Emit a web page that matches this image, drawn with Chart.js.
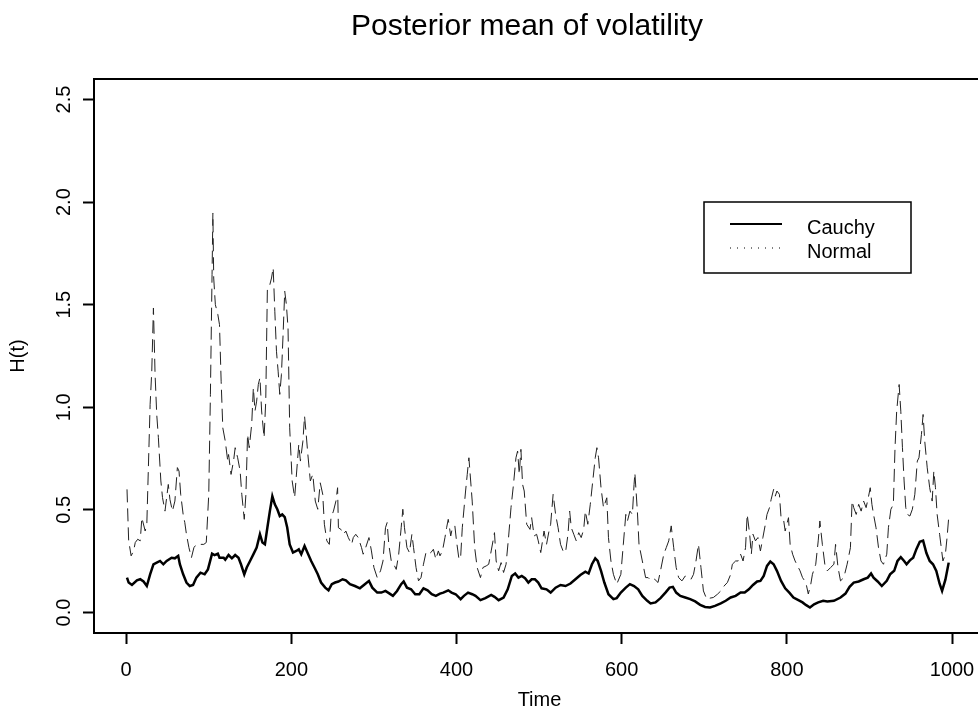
<!DOCTYPE html>
<html>
<head>
<meta charset="utf-8">
<script src="https://cdn.jsdelivr.net/npm/chart.js@4.4.0/dist/chart.umd.min.js"></script>
<style>
html, body { margin: 0; padding: 0; background: #fff; overflow: hidden; }
#wrap { width: 1000px; height: 725px; }
</style>
</head>
<body>
<div id="wrap"><canvas id="chart_volatility" width="1000" height="725"></canvas></div>
<script>
// values
var chartTitle = 'Posterior mean of volatility';
var xTicks = [0, 200, 400, 600, 800, 1000];
var yTicks = [0, 0.5, 1, 1.5, 2, 2.5];

var cauchyT = [1,3,7,13,17,21,25,29,33,37,41,45,49,55,59,63,65,69,73,77,81,85,90,95,99,104,107,111,113,118,120,124,128,132,136,139,143,146,150,154,158,162,165,168,171,174,177,180,183,186,189,192,195,198,202,206,209,212,216,220,224,228,232,236,241,245,249,253,257,262,266,271,277,283,289,294,298,304,309,314,319,323,328,333,336,340,345,350,355,360,365,370,375,380,384,390,394,399,405,409,414,419,423,429,435,442,446,451,457,462,467,471,475,479,483,487,491,495,499,503,509,514,520,526,532,538,544,550,556,560,564,568,571,575,579,584,590,594,599,605,610,615,620,625,631,635,641,647,653,658,662,666,671,677,683,689,695,701,707,713,720,726,732,738,744,749,754,759,764,768,772,776,780,784,788,793,798,803,808,814,819,823,828,833,838,844,849,857,865,871,876,881,887,893,898,902,905,910,915,921,925,930,934,938,942,945,949,953,957,961,965,969,973,977,981,985,988,992,996];
var cauchyH = [0.17,0.146,0.134,0.157,0.162,0.151,0.129,0.186,0.235,0.243,0.251,0.235,0.251,0.267,0.264,0.276,0.235,0.186,0.146,0.129,0.134,0.17,0.194,0.186,0.21,0.287,0.28,0.287,0.267,0.267,0.257,0.28,0.264,0.28,0.267,0.235,0.186,0.219,0.251,0.283,0.316,0.381,0.341,0.332,0.414,0.494,0.567,0.527,0.503,0.47,0.478,0.465,0.414,0.332,0.292,0.3,0.308,0.284,0.324,0.287,0.251,0.219,0.186,0.146,0.121,0.108,0.138,0.146,0.151,0.162,0.157,0.138,0.129,0.118,0.138,0.154,0.121,0.097,0.097,0.105,0.092,0.081,0.105,0.138,0.151,0.121,0.113,0.089,0.089,0.118,0.108,0.089,0.081,0.092,0.097,0.108,0.097,0.089,0.065,0.081,0.097,0.089,0.081,0.06,0.07,0.086,0.076,0.06,0.073,0.113,0.178,0.19,0.17,0.178,0.167,0.146,0.162,0.162,0.146,0.118,0.113,0.097,0.121,0.134,0.129,0.141,0.162,0.183,0.199,0.19,0.235,0.264,0.251,0.203,0.146,0.089,0.065,0.07,0.097,0.121,0.138,0.129,0.113,0.081,0.057,0.044,0.049,0.07,0.097,0.121,0.125,0.097,0.081,0.073,0.065,0.054,0.037,0.027,0.024,0.032,0.044,0.057,0.073,0.081,0.097,0.097,0.113,0.134,0.151,0.154,0.178,0.227,0.248,0.235,0.203,0.154,0.118,0.097,0.073,0.06,0.049,0.037,0.024,0.04,0.049,0.057,0.054,0.057,0.073,0.092,0.125,0.146,0.151,0.162,0.17,0.19,0.17,0.151,0.129,0.154,0.186,0.203,0.251,0.27,0.251,0.235,0.254,0.267,0.31,0.345,0.35,0.29,0.251,0.235,0.203,0.14,0.105,0.16,0.243];

var normalT = [1,3,6,9,11,14,17,19,23,25,29,31,33,35,37,39,42,44,47,51,53,56,59,62,64,66,69,71,73,76,79,82,85,89,94,97,100,102,104,105,106,108,111,113,115,117,120,123,124,127,130,132,135,138,140,143,145,147,149,152,154,156,158,160,162,164,167,169,171,174,176,178,180,182,184,186,188,190,192,194,196,198,201,204,209,211,214,216,218,220,223,226,229,232,235,238,240,243,246,248,251,254,256,257,260,263,266,269,273,275,278,281,285,287,290,294,297,300,304,308,311,314,316,318,321,324,327,330,333,335,337,340,343,346,348,351,354,357,360,363,366,369,372,375,378,380,383,386,388,390,393,395,398,400,403,405,407,411,413,415,419,422,425,429,432,436,439,442,446,448,451,454,457,460,463,466,469,472,474,476,478,480,482,485,489,491,494,497,499,502,506,509,512,514,517,520,523,526,529,532,535,537,539,542,545,548,551,554,556,559,562,565,568,570,572,575,578,582,584,587,590,594,599,602,605,607,610,613,615,616,619,621,625,629,632,636,640,644,647,651,654,657,660,663,666,669,673,677,681,684,687,690,693,696,699,703,707,711,716,720,724,728,732,734,738,741,744,747,750,752,755,757,759,762,765,768,771,774,776,779,781,784,786,788,791,793,796,798,802,804,807,810,814,816,819,823,826,829,831,835,838,840,843,846,849,853,857,859,862,865,869,873,877,879,881,884,887,890,893,896,899,901,903,905,908,911,914,917,921,923,926,929,931,933,936,938,940,942,944,946,949,952,955,958,960,963,965,967,970,973,976,978,980,982,985,987,989,992,994,996];
var normalH = [0.6,0.35,0.276,0.3,0.341,0.357,0.349,0.462,0.397,0.43,1.014,1.176,1.484,1.16,0.965,0.852,0.641,0.56,0.494,0.624,0.551,0.494,0.543,0.706,0.689,0.576,0.478,0.438,0.381,0.316,0.267,0.316,0.332,0.332,0.332,0.341,0.576,1.063,1.647,1.947,1.63,1.5,1.452,1.403,1.127,0.9,0.835,0.738,0.77,0.673,0.738,0.803,0.754,0.689,0.576,0.454,0.576,0.868,0.803,0.917,1.095,0.982,1.03,1.111,1.144,0.982,0.852,1.03,1.582,1.598,1.63,1.68,1.468,1.273,1.176,1.063,1.16,1.355,1.566,1.5,1.387,0.9,0.641,0.56,0.819,0.738,0.835,0.957,0.868,0.77,0.641,0.673,0.543,0.503,0.632,0.576,0.43,0.349,0.332,0.462,0.494,0.543,0.608,0.413,0.405,0.381,0.397,0.365,0.332,0.365,0.381,0.365,0.316,0.284,0.316,0.365,0.3,0.219,0.17,0.203,0.251,0.413,0.438,0.332,0.251,0.235,0.21,0.284,0.413,0.503,0.413,0.316,0.292,0.381,0.316,0.219,0.154,0.17,0.235,0.292,0.284,0.292,0.308,0.259,0.3,0.276,0.3,0.365,0.413,0.454,0.373,0.413,0.422,0.349,0.259,0.268,0.413,0.592,0.673,0.754,0.543,0.316,0.219,0.17,0.219,0.227,0.235,0.3,0.389,0.251,0.203,0.243,0.195,0.235,0.365,0.511,0.624,0.754,0.787,0.673,0.795,0.624,0.592,0.43,0.405,0.462,0.373,0.381,0.349,0.292,0.397,0.332,0.397,0.43,0.576,0.478,0.413,0.332,0.3,0.292,0.381,0.494,0.413,0.381,0.349,0.389,0.365,0.405,0.494,0.43,0.527,0.641,0.754,0.803,0.754,0.608,0.511,0.559,0.365,0.251,0.186,0.138,0.186,0.332,0.478,0.446,0.494,0.478,0.624,0.68,0.494,0.332,0.251,0.17,0.17,0.154,0.162,0.146,0.203,0.284,0.316,0.349,0.422,0.316,0.219,0.17,0.154,0.178,0.17,0.162,0.186,0.251,0.332,0.219,0.105,0.065,0.07,0.073,0.089,0.105,0.129,0.146,0.186,0.235,0.251,0.251,0.284,0.251,0.316,0.478,0.381,0.284,0.381,0.349,0.365,0.3,0.365,0.43,0.478,0.511,0.551,0.6,0.567,0.592,0.576,0.462,0.454,0.397,0.462,0.332,0.284,0.251,0.219,0.203,0.17,0.146,0.09,0.138,0.186,0.235,0.349,0.446,0.332,0.235,0.203,0.219,0.235,0.332,0.219,0.154,0.17,0.235,0.316,0.543,0.511,0.478,0.527,0.494,0.543,0.511,0.567,0.608,0.527,0.478,0.413,0.316,0.251,0.235,0.284,0.413,0.503,0.527,0.803,0.981,1.111,0.981,0.803,0.641,0.511,0.478,0.47,0.503,0.576,0.738,0.754,0.868,0.965,0.835,0.705,0.608,0.543,0.689,0.608,0.478,0.381,0.316,0.251,0.284,0.365,0.462];

var FONT = "'Liberation Sans', Arial, Helvetica, sans-serif";
Chart.defaults.font.family = FONT;
Chart.defaults.color = '#000';

function toPoints(ts, hs) {
  return ts.map(function (t, i) { return { x: t, y: hs[i] }; });
}

var rDecorations = {
  id: 'rDecorations',
  beforeDraw: function (chart) {
    var ctx = chart.ctx;
    ctx.save();
    ctx.fillStyle = '#fff';
    ctx.fillRect(0, 0, chart.width, chart.height);
    ctx.restore();
  },
  afterDraw: function (chart) {
    var ctx = chart.ctx;
    var a = chart.chartArea;
    ctx.save();
    // plot box
    ctx.strokeStyle = '#000';
    ctx.lineWidth = 2;
    ctx.strokeRect(a.left, a.top, a.right - a.left, a.bottom - a.top);
    // main title
    ctx.fillStyle = '#000';
    ctx.font = '30px ' + FONT;
    ctx.textAlign = 'center';
    ctx.textBaseline = 'middle';
    ctx.fillText(chartTitle, 527, 27);
    // legend box
    ctx.fillStyle = '#fff';
    ctx.fillRect(704, 202, 207, 71);
    ctx.lineWidth = 1.5;
    ctx.strokeRect(704, 202, 207, 71);
    ctx.beginPath();
    ctx.lineWidth = 2;
    ctx.moveTo(730, 224);
    ctx.lineTo(782, 224);
    ctx.stroke();
    ctx.beginPath();
    ctx.lineWidth = 1;
    ctx.setLineDash([1, 6]);
    ctx.moveTo(730, 248);
    ctx.lineTo(782, 248);
    ctx.stroke();
    ctx.setLineDash([]);
    ctx.fillStyle = '#000';
    ctx.font = '20px ' + FONT;
    ctx.textAlign = 'left';
    ctx.fillText('Cauchy', 807, 228);
    ctx.fillText('Normal', 807, 252);
    ctx.restore();
  }
};

var chart_volatility = new Chart(document.getElementById('chart_volatility'), {
  type: 'line',
  data: {
    datasets: [
      {
        label: 'Cauchy',
        data: toPoints(cauchyT, cauchyH),
        borderColor: '#000',
        borderWidth: 2.5,
        pointRadius: 0,
        tension: 0
      },
      {
        label: 'Normal',
        data: toPoints(normalT, normalH),
        borderColor: '#222',
        borderWidth: 1,
        borderDash: [13, 6],
        pointRadius: 0,
        tension: 0
      }
    ]
  },
  options: {
    animation: false,
    responsive: false,
    devicePixelRatio: 1,
    layout: { padding: { top: 79, right: 15, bottom: 0, left: 0 } },
    plugins: {
      legend: { display: false },
      title: { display: false },
      tooltip: { enabled: false }
    },
    scales: {
      x: {
        type: 'linear',
        min: -38.96,
        max: 1039.96,
        afterFit: function (s) { s.height = 92; },
        afterBuildTicks: function (s) { s.ticks = xTicks.map(function (v) { return { value: v }; }); },
        grid: { drawOnChartArea: false, drawTicks: true, tickLength: 11, tickWidth: 2, tickColor: '#000' },
        border: { display: false },
        ticks: {
          color: '#000', font: { size: 20 }, padding: 14, maxRotation: 0, autoSkip: false,
          callback: function (v) { return String(v); }
        },
        title: { display: true, text: 'Time', color: '#000', font: { size: 20 }, padding: 13 }
      },
      y: {
        type: 'linear',
        min: -0.1,
        max: 2.6,
        afterFit: function (s) { s.width = 94; },
        afterBuildTicks: function (s) { s.ticks = yTicks.map(function (v) { return { value: v }; }); },
        grid: { drawOnChartArea: false, drawTicks: true, tickLength: 11, tickWidth: 2, tickColor: '#000' },
        border: { display: false },
        ticks: {
          color: '#000', font: { size: 20 }, padding: 5, minRotation: 90, maxRotation: 90,
          crossAlign: 'center', autoSkip: false,
          callback: function (v) { return v.toFixed(1); }
        },
        title: { display: true, text: 'H(t)', color: '#000', font: { size: 20 }, padding: 6 }
      }
    }
  },
  plugins: [rDecorations]
});
</script>
</body>
</html>
